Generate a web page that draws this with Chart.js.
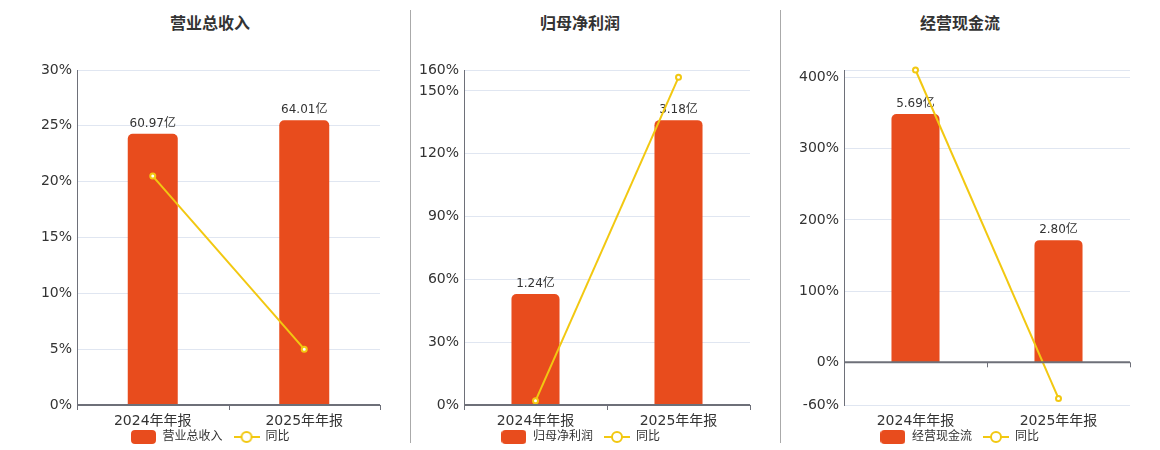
<!DOCTYPE html>
<html>
<head>
<meta charset="utf-8">
<script src="https://cdn.jsdelivr.net/npm/chart.js@4/dist/chart.umd.min.js"></script>
<style>
  html, body { margin: 0; padding: 0; background: #fff; }
  body { width: 1160px; height: 450px; position: relative; overflow: hidden; font-family: "DejaVu Sans", "Noto Sans CJK SC", sans-serif; }
  .title { position: absolute; top: 10px; font: bold 16px "Noto Sans CJK SC", sans-serif; color: #333; text-align: center; line-height: 24px; }
  .sep { position: absolute; top: 10px; width: 1px; height: 433px; background: #aaa; z-index: 2; }
  .wrap { position: absolute; top: 50px; height: 414px; }
</style>
</head>
<body>
<div class="title" style="left:110px;width:200px;">营业总收入</div>
<div class="title" style="left:480px;width:200px;">归母净利润</div>
<div class="title" style="left:860px;width:200px;">经营现金流</div>
<div class="sep" style="left:410px;"></div>
<div class="sep" style="left:780px;"></div>
<div class="wrap" style="left:0px;width:400px;"><canvas id="c1"></canvas></div>
<div class="wrap" style="left:411px;width:369px;"><canvas id="c2"></canvas></div>
<div class="wrap" style="left:781px;width:379px;"><canvas id="c3"></canvas></div>
<script>
// ---- data ----
const categories = ["2024年年报", "2025年年报"];

const revenueName = "营业总收入";
const revenueValues = [60.97, 64.01];      // 亿
const revenueYoY = [20.5, 5.0];            // %
const revenueTicks = [0, 5, 10, 15, 20, 25, 30];

const profitName = "归母净利润";
const profitValues = [1.24, 3.18];         // 亿
const profitYoY = [2.0, 156.5];            // %
const profitTicks = [0, 30, 60, 90, 120, 150, 160];

const cashName = "经营现金流";
const cashValues = [5.69, 2.80];           // 亿
const cashYoY = [410.8, -50.8];            // %
const cashTicks = [-60, 0, 100, 200, 300, 400, 410.8];
const cashTickLabels = ["-60%", "0%", "100%", "200%", "300%", "400%", ""];

const yoyName = "同比";

// ---- style ----
const BAR = "#E84C1D";
const LINE = "#F2C811";
const TXT = "#333";
const AXIS = "#6E7079";
const GRID = "#E0E6F1";
const FONT = '"DejaVu Sans", "Noto Sans CJK SC", sans-serif';
const LEGEND_PAD = 11;

function makeBarIcon() {
  const c = document.createElement("canvas");
  c.width = 25; c.height = 14;
  const x = c.getContext("2d");
  x.fillStyle = BAR;
  x.beginPath(); x.roundRect(0, 0, 25, 14, 4); x.fill();
  return c;
}
function makeLineIcon() {
  const c = document.createElement("canvas");
  c.width = 26; c.height = 14;
  const x = c.getContext("2d");
  x.strokeStyle = LINE; x.lineWidth = 2;
  x.beginPath(); x.moveTo(0, 7); x.lineTo(26, 7); x.stroke();
  x.fillStyle = "#fff";
  x.beginPath(); x.arc(13, 7, 5, 0, Math.PI * 2); x.fill(); x.stroke();
  return c;
}
const barIcon = makeBarIcon();
const lineIcon = makeLineIcon();

const labelsPlugin = {
  id: "barLabels",
  afterDatasetDraw(chart, args) {
    if (args.meta.type !== "bar") return;
    const ctx = chart.ctx;
    const ds = chart.data.datasets[args.index];
    ctx.save();
    ctx.font = "12px " + FONT;
    ctx.fillStyle = TXT;
    ctx.textAlign = "center";
    ctx.textBaseline = "bottom";
    args.meta.data.forEach((el, i) => {
      ctx.fillText(ds.data[i].toFixed(2) + "亿", el.x, el.y - 4);
    });
    ctx.restore();
  }
};

const legendShiftPlugin = {
  id: "legendShift",
  afterLayout(chart) {
    if (chart.legend) { chart.legend.top -= LEGEND_PAD; chart.legend.bottom -= LEGEND_PAD; }
  }
};

const zeroAxisPlugin = {
  id: "zeroAxis",
  afterDraw(chart) {
    const ctx = chart.ctx;
    const y = chart.scales.y.getPixelForValue(0);
    const a = chart.chartArea;
    ctx.save();
    ctx.strokeStyle = AXIS;
    ctx.lineWidth = 2;
    ctx.beginPath(); ctx.moveTo(a.left, y); ctx.lineTo(a.right, y); ctx.stroke();
    ctx.lineWidth = 1;
    const n = chart.data.labels.length;
    const w = (a.right - a.left) / n;
    ctx.beginPath();
    for (let i = 0; i <= n; i++) {
      const px = Math.round(a.left + i * w) + 0.5;
      ctx.moveTo(px, y); ctx.lineTo(px, y + 5);
    }
    ctx.stroke();
    ctx.restore();
  }
};

function build(id, name, bars, yoy, ticks, tickLabels, yMin, yMax, bMin, bMax, padLeft, yWidth, padRight, barPct) {
  new Chart(document.getElementById(id), {
    data: {
      labels: categories,
      datasets: [
        {
          type: "bar", label: name, data: bars, yAxisID: "y1", order: 1,
          backgroundColor: BAR, borderRadius: { topLeft: 5, topRight: 5 }, borderSkipped: "start",
          barPercentage: barPct, categoryPercentage: 1
        },
        {
          type: "line", label: yoyName, data: yoy, yAxisID: "y", order: 0, clip: false,
          borderColor: LINE, borderWidth: 2, pointRadius: 2.5, pointBorderWidth: 2,
          pointBackgroundColor: "#fff", pointBorderColor: LINE, tension: 0
        }
      ]
    },
    options: {
      responsive: true, maintainAspectRatio: false, animation: false,
      layout: { padding: { left: padLeft, right: padRight, top: 20, bottom: 0 } },
      plugins: {
        tooltip: { enabled: false },
        legend: {
          position: "bottom",
          labels: {
            usePointStyle: true, pointStyleWidth: 26, boxHeight: 14,
            color: TXT, font: { size: 12, family: FONT }, padding: LEGEND_PAD,
            generateLabels(chart) {
              return chart.data.datasets.map((d, i) => ({
                text: d.label, pointStyle: i === 0 ? barIcon : lineIcon,
                fontColor: TXT, datasetIndex: i, hidden: false, lineWidth: 0
              }));
            }
          }
        }
      },
      scales: {
        x: {
          grid: { display: false, drawTicks: false },
          border: { display: false },
          afterFit(s) { s.height = 26; },
          ticks: { color: TXT, font: { size: 14, family: FONT }, padding: 8 },
        },
        y: {
          min: yMin, max: yMax,
          afterBuildTicks(s) { s.ticks = ticks.map(v => ({ value: v })); },
          afterFit(s) { s.width = yWidth; },
          grid: { color: (c) => c.tick && c.tick.value === 0 ? "rgba(0,0,0,0)" : GRID, drawTicks: false },
          border: { display: true, color: AXIS, width: 1 },
          ticks: {
            color: TXT, font: { size: 14, family: FONT }, padding: 5,
            callback(v, i) { return tickLabels ? tickLabels[i] : v + "%"; }
          }
        },
        y1: {
          display: false, min: bMin, max: bMax
        }
      }
    },
    plugins: [labelsPlugin, zeroAxisPlugin, legendShiftPlugin]
  });
}

build("c1", revenueName, revenueValues, revenueYoY, revenueTicks, null, 0, 30, 0, 75.3, 40, 37, 20, 0.33);
build("c2", profitName, profitValues, profitYoY, profitTicks, null, 0, 160, 0, 3.74, 0, 53, 30, 0.336);
build("c3", cashName, cashValues, cashYoY, cashTicks, cashTickLabels, -60, 410.8, -0.979, 6.70, 8, 55, 30, 0.336);
</script>
</body>
</html>
